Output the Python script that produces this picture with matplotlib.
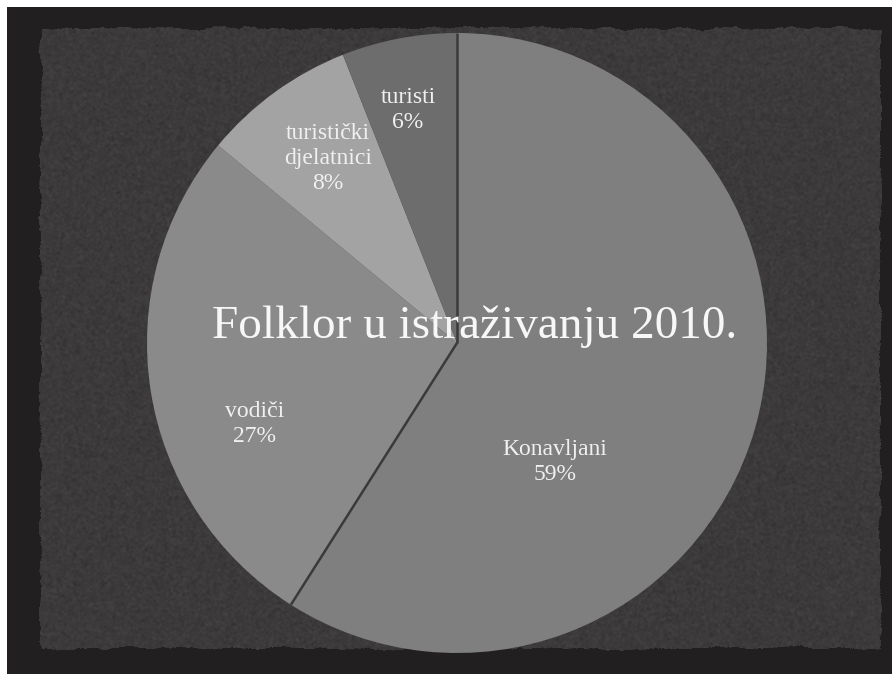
import numpy as np
import matplotlib.pyplot as plt

# survey groups and their shares (%)
groups = ["Konavljani", "vodiči", "turistički\ndjelatnici", "turisti"]
shares = [59, 27, 8, 6]
title = "Folklor u istraživanju 2010."

wedge_colors = ["#7f7f7f", "#8a8a8a", "#a3a3a3", "#6d6d6d"]
# label centres in pie units (radius 1)
label_xy = [(0.315, -0.385), (-0.652, -0.26), (-0.416, 0.595), (-0.158, 0.752)]

W, H = 892, 674
fig = plt.figure(figsize=(W / 100, H / 100), dpi=100)

# dark board with a torn, lighter paper panel on top
rng = np.random.default_rng(7)
img = np.empty((H, W, 3))
img[:] = np.array([34, 31, 32]) / 255


def smooth(a, k):
    return np.convolve(a, np.ones(k) / k, mode="same")


top = 28 + smooth(rng.normal(0, 4, W), 15)
bottom = 648 + smooth(rng.normal(0, 5, W), 25)
left = 40 + smooth(rng.normal(0, 4, H), 15)
right = 880 + smooth(rng.normal(0, 3, H), 15)
yy, xx = np.mgrid[0:H, 0:W]
panel = (yy > top[None, :]) & (yy < bottom[None, :]) & (xx > left[:, None]) & (xx < right[:, None])

grain = rng.normal(0, 1, (H, W))
for axis in (0, 1):
    grain = np.apply_along_axis(smooth, axis, grain, 3)
shade = 60 + 8 * grain
for c, off in enumerate([0, -2, -2]):
    img[..., c] = np.where(panel, (shade + off) / 255, img[..., c])
img = np.clip(img, 0, 1)
img[:7, :] = 1.0
img[:, :7] = 1.0

bg = fig.add_axes([0, 0, 1, 1])
bg.imshow(img, interpolation="bilinear", aspect="auto", extent=[0, W, H, 0])
bg.set_xlim(0, W)
bg.set_ylim(H, 0)
bg.axis("off")

# pie: centre (457, 343) px, radius 310 px
cx, cy, r = 457, 343, 310
ax = fig.add_axes([(cx - r) / W, (H - cy - r) / H, 2 * r / W, 2 * r / H])
ax.pie(shares, colors=wedge_colors, startangle=90, counterclock=False,
       radius=1, wedgeprops=dict(linewidth=0))
ax.set_xlim(-1, 1)
ax.set_ylim(-1, 1)

# dark seams along the edges of the largest slice
for ang in (90, 90 - shares[0] / sum(shares) * 360):
    t = np.deg2rad(ang)
    ax.plot([0, np.cos(t)], [0, np.sin(t)], color="#3a3a3a", lw=1.8,
            solid_capstyle="butt")

for name, val, (lx, ly) in zip(groups, shares, label_xy):
    ax.text(lx, ly, f"{name}\n{val}%", ha="center", va="center",
            fontsize=17, family="Liberation Serif", color="#f0f0f0",
            linespacing=1.25)

fig.text(475 / W, 1 - 327 / H, title, ha="center", va="center",
         fontsize=34, family="Liberation Serif", color="#f7f7f7")

fig.savefig("out.png", dpi=100)
